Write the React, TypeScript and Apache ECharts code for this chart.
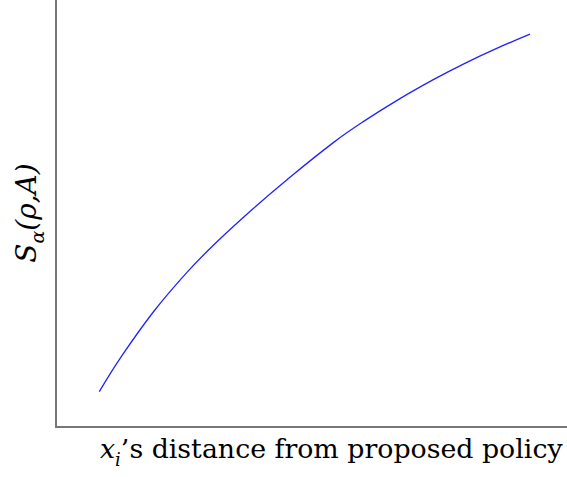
import React, { useEffect, useRef } from "react";
import * as echarts from "echarts";

const xValues = [8.47, 12.52, 19.04, 25.58, 31.45, 38.61, 45.15, 54.27, 60.14, 66.67, 73.84, 79.71, 86.24, 92.76];
const yValues = [8.27, 16.02, 26.93, 36.16, 43.33, 51.19, 57.87, 66.6, 71.52, 76.44, 81.34, 84.99, 88.66, 92.01];
const xLabel = "’s distance from proposed policy";
const yLabelParts = ["S", "α", "(ρ,A)"];

export default function App() {
  const ref = useRef<HTMLDivElement>(null);
  useEffect(() => {
    if (!ref.current) return;
    const chart = echarts.init(ref.current, null, { renderer: "svg" });
    const serif = "DejaVu Serif";
    chart.setOption({
      animation: false,
      backgroundColor: "#fff",
      grid: { left: 56, right: 0, top: 0, bottom: 50 },
      xAxis: {
        type: "value", min: 0, max: 100,
        axisLine: { show: true, lineStyle: { color: "#777", width: 2 } },
        axisTick: { show: false }, axisLabel: { show: false }, splitLine: { show: false },
      },
      yAxis: {
        type: "value", min: 0, max: 100,
        axisLine: { show: true, lineStyle: { color: "#777", width: 2 } },
        axisTick: { show: false }, axisLabel: { show: false }, splitLine: { show: false },
      },
      series: [{
        type: "line",
        data: xValues.map((x, i) => [x, yValues[i]]),
        smooth: 0.4,
        showSymbol: false,
        lineStyle: { color: "#2222ff", width: 1.3 },
      }],
      graphic: [
        {
          type: "text", left: 100, top: 435,
          style: {
            text: "{x|x}{i|i}{n|" + xLabel + "}",
            rich: {
              x: { fontFamily: serif, fontStyle: "italic", fontSize: 26.8, fill: "#000", verticalAlign: "bottom" },
              i: { fontFamily: serif, fontStyle: "italic", fontSize: 18, fill: "#000", verticalAlign: "bottom", padding: [0, 0, -6, 0] },
              n: { fontFamily: serif, fontSize: 26.8, fill: "#000", verticalAlign: "bottom" },
            },
          },
        },
        {
          type: "text", x: 26, y: 213, rotation: Math.PI / 2,
          style: {
            text: "{s|" + yLabelParts[0] + "}{a|" + yLabelParts[1] + "}{p|" + yLabelParts[2] + "}",
            align: "center", verticalAlign: "middle",
            rich: {
              s: { fontFamily: serif, fontStyle: "italic", fontSize: 28, fill: "#000", verticalAlign: "bottom" },
              a: { fontFamily: serif, fontStyle: "italic", fontSize: 19, fill: "#000", verticalAlign: "bottom", padding: [0, 0, -6, 0] },
              p: { fontFamily: serif, fontStyle: "italic", fontSize: 28, fill: "#000", verticalAlign: "bottom" },
            },
          },
        },
      ],
    });
    return () => chart.dispose();
  }, []);
  return <div ref={ref} style={{ width: 567, height: 477, position: "absolute", left: 0, top: 0 }} />;
}
